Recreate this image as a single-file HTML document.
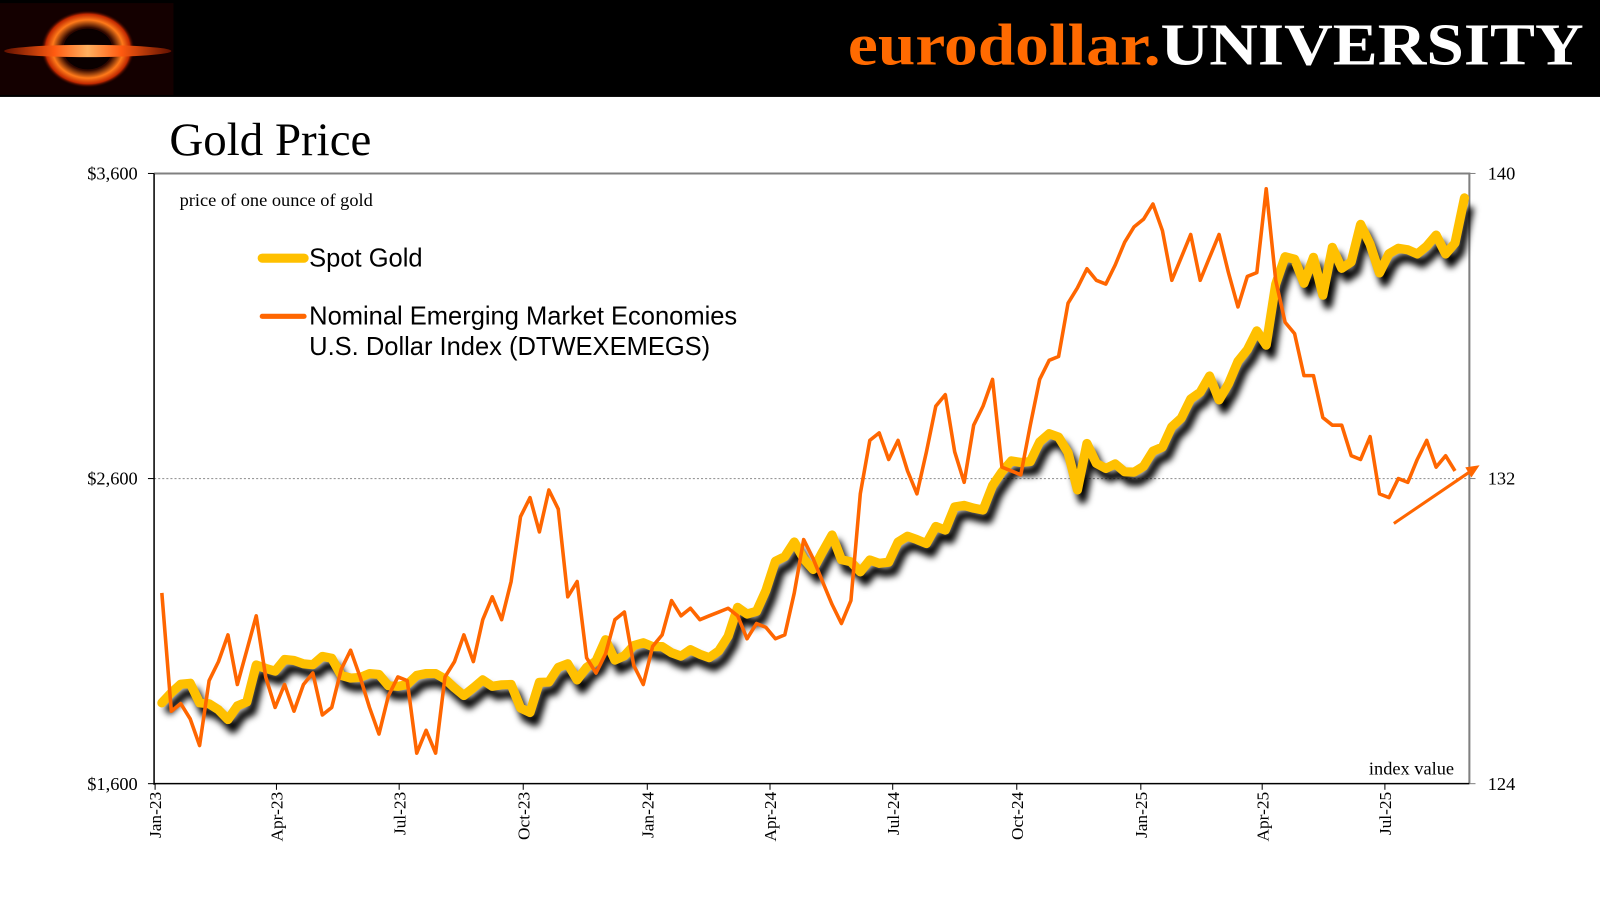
<!DOCTYPE html>
<html><head><meta charset="utf-8"><style>
html,body{margin:0;padding:0;background:#fff;width:1600px;height:900px;overflow:hidden}
svg text{font-family:"Liberation Serif",serif}
</style></head><body>
<svg id="chart" width="1600" height="900" viewBox="0 0 1600 900" xmlns="http://www.w3.org/2000/svg">
<defs>
<filter id="blur" x="-5%" y="-20%" width="110%" height="140%"><feGaussianBlur stdDeviation="3.5"/></filter>
<radialGradient id="lg1" cx="50%" cy="50%" r="50%"><stop offset="0" stop-color="#200000"/><stop offset="0.55" stop-color="#300800"/><stop offset="0.75" stop-color="#ff7a1a"/><stop offset="0.9" stop-color="#c02800"/><stop offset="1" stop-color="#1a0000" stop-opacity="0"/></radialGradient>
<linearGradient id="disk" x1="0" x2="1"><stop offset="0" stop-color="#601000"/><stop offset="0.3" stop-color="#ff5a10"/><stop offset="0.5" stop-color="#ffb060"/><stop offset="0.7" stop-color="#ff5a10"/><stop offset="1" stop-color="#601000"/></linearGradient>
</defs>
<g transform="scale(1.0204)">
<rect x="0" y="0" width="1600" height="95" fill="#000"/>
<g>
<rect x="0" y="3" width="170" height="90" fill="#140000"/>
<ellipse cx="86" cy="48" rx="46" ry="38" fill="url(#lg1)"/>
<ellipse cx="86" cy="48" rx="24" ry="20" fill="#0a0000"/>
<ellipse cx="86" cy="50" rx="82" ry="6" fill="url(#disk)"/>
</g>
<text x="831" y="63" textLength="721" lengthAdjust="spacingAndGlyphs" font-size="58" font-weight="bold"><tspan fill="#ff6a00">eurodollar.</tspan><tspan fill="#fff">UNIVERSITY</tspan></text>
<text x="166" y="152" font-size="46" fill="#000">Gold Price</text>
<g id="axes"></g>
<g id="series"></g>
<text x="176" y="202" font-size="18" fill="#000">price of one ounce of gold</text>
<text x="1425" y="759" text-anchor="end" font-size="18" fill="#000">index value</text>
<g>
<line x1="257" y1="253" x2="298" y2="253" stroke="#FFC000" stroke-width="9" stroke-linecap="round"/>
<text x="303" y="261" font-size="25" style="font-family:'Liberation Sans',sans-serif">Spot Gold</text>
<line x1="257" y1="310" x2="298" y2="310" stroke="#FF6600" stroke-width="5" stroke-linecap="round"/>
<text x="303" y="318" font-size="25" style="font-family:'Liberation Sans',sans-serif">Nominal Emerging Market Economies</text>
<text x="303" y="348" font-size="25" style="font-family:'Liberation Sans',sans-serif">U.S. Dollar Index (DTWEXEMEGS)</text>
</g>
<g>
<line x1="1366" y1="513" x2="1441" y2="462" stroke="#FF6600" stroke-width="3"/>
<polygon points="1450,456 1436,458 1442,468" fill="#FF6600"/>
</g>
</g>
</svg>
<script>
// Weekly spot gold (USD/oz), Fridays from 2023-01-06
const goldValues = [
1865,1898,1926,1929, 1865,1862,1842,1810, 1855,1868,1989,1978,1969, 2007,2004,1993,1990, 2017,2011,1955,1946,
1948,1961,1958,1921,1919, 1925,1955,1961,1961, 1943,1914,1889,1914, 1940,1919,1924,1925,1848, 1833,1932,1933,1981,
1993,1940,1981,2002, 2072,2005,2019,2053,2062,
2049,2049,2029,2018, 2039,2024,2013,2035, 2083,2178,2156,2165,2233, 2329,2344,2392,2337, 2302,2360,2415,2334,2327,
2294,2333,2322,2326, 2392,2411,2400,2387, 2443,2431,2507,2512,2503, 2497,2577,2622,2658, 2653,2656,2720,2747,
2736,2685,2563,2715,2650, 2633,2648,2622,2621,
2640,2690,2703,2770,2798, 2861,2883,2936,2858, 2910,2984,3022,3084, 3037,3237,3327,3319, 3240,3325,3201,3358,3289,
3310,3433,3368,3274, 3337,3355,3350,3336, 3362,3398,3336,3372,3520];
// Weekly EM dollar index, same weekly grid
const emValues = [
129.0,125.9,126.1,125.7,125.0,126.7,127.2,127.9,126.6,127.5,128.4,126.8,126.0,126.6,125.9,126.6,126.9,125.8,126.0,127.0,
127.5,126.8,126.0,125.3,126.3,126.8,126.7,124.8,125.4,124.8,126.8,127.2,127.9,127.2,128.3,128.9,128.3,129.3,131.0,131.5,
130.6,131.7,131.2,128.9,129.3,127.3,126.9,127.4,128.3,128.5,127.1,126.6,127.6,127.9,128.8,128.4,128.6,128.3,128.4,128.5,
128.6,128.4,127.8,128.2,128.1,127.8,127.9,129.0,130.4,129.9,129.3,128.7,128.2,128.8,131.6,133.0,133.2,132.5,133.0,132.2,
131.6,132.7,133.9,134.2,132.7,131.9,133.4,133.9,134.6,132.3,132.2,132.1,133.4,134.6,135.1,135.2,136.6,137.0,137.5,137.2,
137.1,137.6,138.2,138.6,138.8,139.2,138.5,137.2,137.8,138.4,137.2,137.8,138.4,137.4,136.5,137.3,137.4,139.6,137.2,136.1,
135.8,134.7,134.7,133.6,133.4,133.4,132.6,132.5,133.1,131.6,131.5,132.0,131.9,132.5,133.0,132.3,132.6,132.2];
const leftTicks = [1600, 2600, 3600];
const leftTickLabels = ["$1,600", "$2,600", "$3,600"];
const rightTicks = [124, 132, 140];
const rightTickLabels = ["124", "132", "140"];
const monthTickDays = [0, 90, 181, 273, 365, 456, 547, 639, 731, 821, 912];
const monthTickLabels = ["Jan-23","Apr-23","Jul-23","Oct-23","Jan-24","Apr-24","Jul-24","Oct-24","Jan-25","Apr-25","Jul-25"];
const firstDay = 5, stepDays = 7;

const X0 = 151, X1 = 1440, Y0 = 768, Y1 = 170;
const xScale = d => 152 + d * 1.3215;
const yLeft = v => Y0 - (v - 1600) / 2000 * (Y0 - Y1);
const yRight = v => Y0 - (v - 124) / 16 * (Y0 - Y1);
const NS = "http://www.w3.org/2000/svg";
const mk = (tag, attrs) => { const e = document.createElementNS(NS, tag); for (const k in attrs) e.setAttribute(k, attrs[k]); return e; };
const axes = document.getElementById('axes');
const series = document.getElementById('series');

const grid = mk('line', {x1: X0, x2: X1, y1: yLeft(2600), y2: yLeft(2600), stroke: '#999', 'stroke-width': 1, 'stroke-dasharray': '2,2'});


axes.appendChild(grid);
const frame = mk('path', {d: `M${X0},${Y1}H${X1}V${Y0}`, fill: 'none', stroke: '#808080', 'stroke-width': 2});


axes.appendChild(frame);
const yAx = mk('line', {x1: X0, x2: X0, y1: Y1, y2: Y0 + 1, stroke: '#000', 'stroke-width': 1.5});


axes.appendChild(yAx);
const xAx = mk('line', {x1: X0, x2: X1, y1: Y0, y2: Y0, stroke: '#000', 'stroke-width': 1.5});


axes.appendChild(xAx);

leftTicks.forEach((v, i) => {
  const y = yLeft(v);
  axes.appendChild(mk('line', {x1: X0 - 6, x2: X0, y1: y, y2: y, stroke: '#000'}));
  const t = mk('text', {x: 135, y: y + 6, 'text-anchor': 'end', 'font-size': 18});
  t.textContent = leftTickLabels[i];
  
  
  axes.appendChild(t);
});
rightTicks.forEach((v, i) => {
  const y = yRight(v);
  axes.appendChild(mk('line', {x1: X1, x2: X1 + 6, y1: y, y2: y, stroke: '#808080'}));
  const t = mk('text', {x: 1458, y: y + 6, 'font-size': 18});
  t.textContent = rightTickLabels[i];
  
  
  axes.appendChild(t);
});
monthTickDays.forEach((d, i) => {
  const x = xScale(d);
  axes.appendChild(mk('line', {x1: x, x2: x, y1: Y0, y2: Y0 + 6, stroke: '#000'}));
  const t = mk('text', {x: 0, y: 0, 'text-anchor': 'end', 'font-size': 17, transform: `translate(${x + 6},${Y0 + 8}) rotate(-90)`});
  t.textContent = monthTickLabels[i];
  
  
  axes.appendChild(t);
});

const pts = (vals, ys) => vals.map((v, i) => `${xScale(firstDay + i * stepDays).toFixed(1)},${ys(v).toFixed(1)}`).join(' ');
const goldPts = pts(goldValues, yLeft);

const shadow = mk('polyline', {points: goldPts, fill: 'none', stroke: '#000', 'stroke-width': 9, 'stroke-linejoin': 'round', transform: 'translate(5,9)', filter: 'url(#blur)'});


series.appendChild(shadow);
const gold = mk('polyline', {points: goldPts, fill: 'none', stroke: '#FFC000', 'stroke-width': 9, 'stroke-linejoin': 'round', 'stroke-linecap': 'round'});


series.appendChild(gold);
const em = mk('polyline', {points: pts(emValues, yRight), fill: 'none', stroke: '#FF6600', 'stroke-width': 3.5, 'stroke-linejoin': 'round'});


series.appendChild(em);
</script>
</body></html>
